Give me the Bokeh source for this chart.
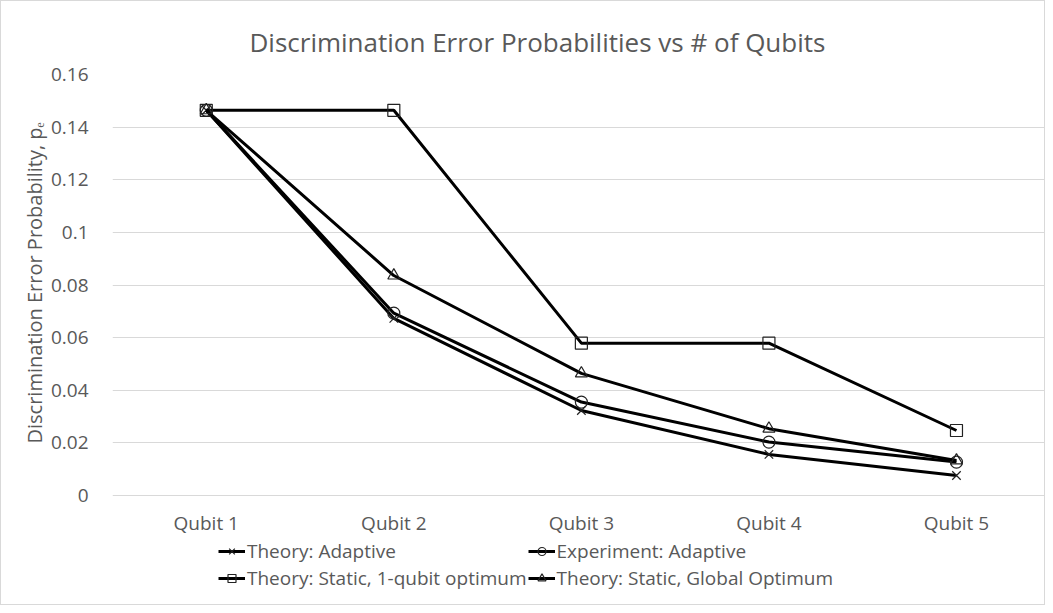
from bokeh.plotting import figure
from bokeh.models import (Legend, LegendItem, FixedTicker, NumeralTickFormatter,
                          Range1d, Title)
from bokeh.embed import file_html
from bokeh.resources import INLINE

categories = ["Qubit 1", "Qubit 2", "Qubit 3", "Qubit 4", "Qubit 5"]
theory_adaptive = [0.1464, 0.0673, 0.0323, 0.0156, 0.0076]
experiment_adaptive = [0.1464, 0.0693, 0.0355, 0.0203, 0.0127]
static_1qubit = [0.1464, 0.1464, 0.0579, 0.0579, 0.0247]
static_global = [0.1464, 0.0836, 0.0464, 0.0254, 0.0133]
y_ticks = [0, 0.02, 0.04, 0.06, 0.08, 0.1, 0.12, 0.14, 0.16]

FONT = "Open Sans"
GREY = "#595959"

xs = list(range(1, len(categories) + 1))

W, H = 1045, 605
TOP, LEFT = 73, 111
PLOT_PX = 421              # pixels from 0 to 0.16
px_per_unit = PLOT_PX / 0.16
y_start = -(H - TOP - PLOT_PX) / px_per_unit   # frame extends below 0 for legend room

p = figure(width=W, height=H, output_backend="svg", toolbar_location=None,
           x_range=Range1d(0.5, 5.48), y_range=Range1d(y_start, 0.16),
           x_axis_location=None,
           min_border_left=LEFT, min_border_right=0, min_border_top=TOP,
           min_border_bottom=0)
p.styles = {"border": "1px solid #d9d9d9"}

p.title.text = "Discrimination Error Probabilities vs # of Qubits"
p.title.align = "left"
p.title.offset = 137
p.title.text_font = FONT
p.title.text_font_size = "26px"
p.title.text_font_style = "normal"
p.title.text_color = GREY
p.title.standoff = 30

p.outline_line_color = None
p.xgrid.grid_line_color = None
p.ygrid.grid_line_color = "#d9d9d9"
p.ygrid.grid_line_width = 1

p.yaxis.ticker = FixedTicker(ticks=y_ticks)
p.yaxis.formatter = NumeralTickFormatter(format="0.[00]")
p.yaxis.axis_line_color = None
p.yaxis.major_tick_line_color = None
p.yaxis.minor_tick_line_color = None
p.yaxis.major_label_standoff = 18
p.yaxis.major_label_text_font = FONT
p.yaxis.major_label_text_font_size = "19px"
p.yaxis.major_label_text_color = GREY

# y-axis title as a side title so it can sit beside the 0..0.16 span
ytitle = Title(text="Discrimination Error Probability, pₑ", align="left",
               offset=163, text_font=FONT, text_font_size="20px",
               text_font_style="normal", text_color=GREY, standoff=0)
p.add_layout(ytitle, "left")

# category labels under the zero line
p.text(x=xs, y=[0] * len(xs), text=categories, y_offset=14,
       text_align="center", text_baseline="top",
       text_font={"value": FONT}, text_font_size={"value": "19px"},
       text_color=GREY)

series = [
    ("Theory: Adaptive", theory_adaptive, "x"),
    ("Experiment: Adaptive", experiment_adaptive, "circle"),
    ("Theory: Static, 1-qubit optimum", static_1qubit, "square"),
    ("Theory: Static, Global Optimum", static_global, "triangle"),
]

items = []
for name, ys, marker in series:
    l = p.line(xs, ys, line_color="black", line_width=3)
    s = p.scatter(xs, ys, marker=marker, size=12, line_color="#222222",
                  line_width=1.2, fill_alpha=0)
    items.append(LegendItem(label=name, renderers=[l, s]))

# column-major fill: reorder so rows read left-to-right like the reference
ordered = [items[0], items[2], items[1], items[3]]
legend = Legend(items=ordered, ncols=2, location=(106, 15),
                label_text_font=FONT, label_text_font_size="19px",
                label_text_color=GREY, glyph_width=27, glyph_height=20,
                label_standoff=2, spacing=1, padding=0, margin=0,
                border_line_color=None, background_fill_alpha=0,
                label_height=20)
p.add_layout(legend, "center")

open("out.html", "w").write(file_html(p, INLINE))
